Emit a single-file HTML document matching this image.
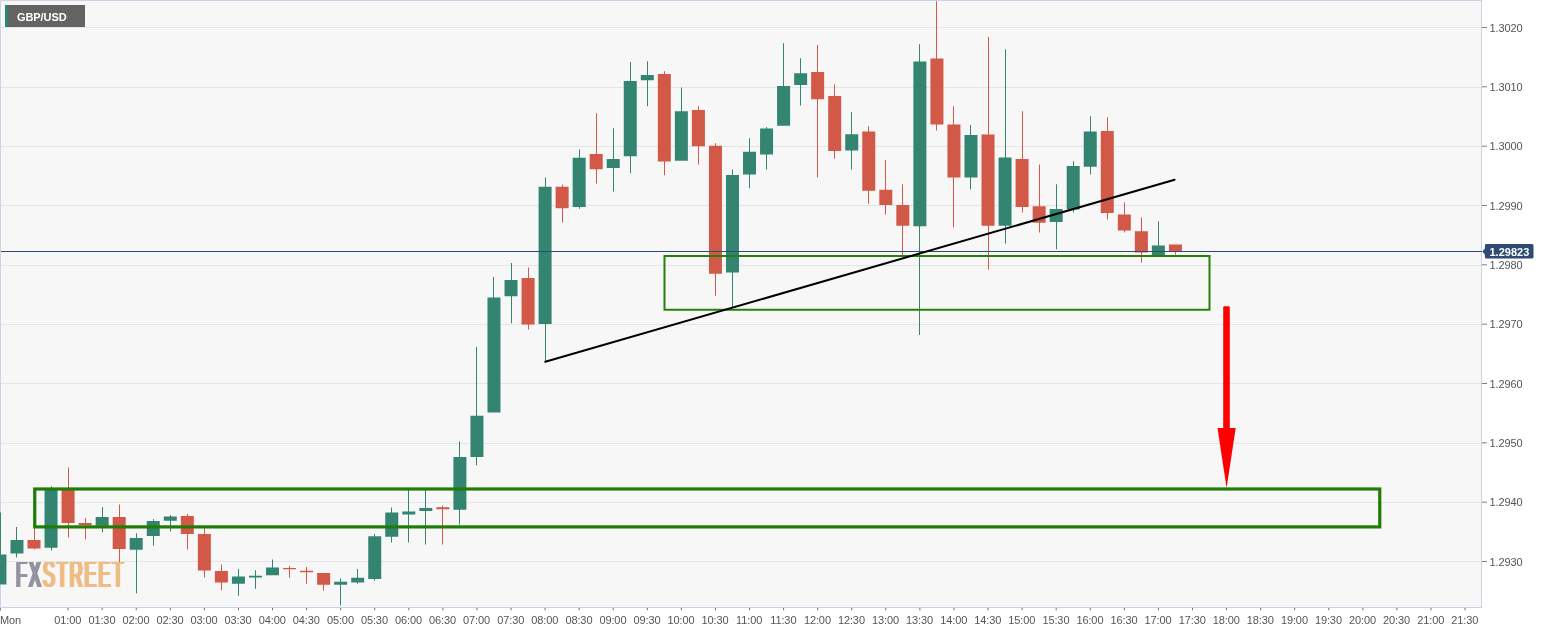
<!DOCTYPE html>
<html><head><meta charset="utf-8"><title>GBP/USD</title>
<style>
html,body{margin:0;padding:0;background:#fff;}
body{width:1552px;height:633px;position:relative;overflow:hidden;font-family:"Liberation Sans",Arial,sans-serif;}
#plot{position:absolute;left:0;top:0;width:1482px;height:608px;box-sizing:border-box;background:#f7f7f7;border:1px solid #cdd3e6;}
svg{position:absolute;left:0;top:0;}
.yl{position:absolute;left:1489.5px;letter-spacing:-0.1px;font-size:11px;line-height:12px;color:#555;white-space:nowrap;}
.xl{position:absolute;top:614px;width:40px;margin-left:-20px;letter-spacing:-0.1px;text-align:center;font-size:11px;line-height:12px;color:#555;white-space:nowrap;}
#sym{position:absolute;left:5px;top:5px;width:80px;height:22px;background:#636363;box-sizing:border-box;border-left:3px solid #2b8572;color:#fff;font-weight:700;font-size:11px;letter-spacing:-0.08px;line-height:24px;padding-left:9px;}
#wm{position:absolute;left:15.8px;top:554.55px;font-size:36.2px;line-height:40px;font-weight:400;white-space:nowrap;transform-origin:0 0;transform:scale(0.5012,1);letter-spacing:3.6px;}
#wm .fx{color:#93949f;text-shadow:2.7px 0 0 #93949f,-2.7px 0 0 #93949f,1.3px 0 0 #93949f,-1.3px 0 0 #93949f;}
#wm .st{color:#edbd85;text-shadow:2.7px 0 0 #edbd85,-2.7px 0 0 #edbd85,1.3px 0 0 #edbd85,-1.3px 0 0 #edbd85;}
#pl{position:absolute;left:1489.5px;top:245.7px;font-size:11px;line-height:13px;font-weight:700;color:#fff;}
</style></head><body>
<div id="plot"></div>
<div id="wm"><span class="fx">FX</span><span class="st">STREET</span></div>
<svg width="1552" height="633" viewBox="0 0 1552 633">
<rect x="1" y="27" width="1480" height="1" fill="#e4e4e4"/>
<rect x="1" y="87" width="1480" height="1" fill="#e4e4e4"/>
<rect x="1" y="146" width="1480" height="1" fill="#e4e4e4"/>
<rect x="1" y="205" width="1480" height="1" fill="#e4e4e4"/>
<rect x="1" y="265" width="1480" height="1" fill="#e4e4e4"/>
<rect x="1" y="324" width="1480" height="1" fill="#e4e4e4"/>
<rect x="1" y="383" width="1480" height="1" fill="#e4e4e4"/>
<rect x="1" y="443" width="1480" height="1" fill="#e4e4e4"/>
<rect x="1" y="502" width="1480" height="1" fill="#e4e4e4"/>
<rect x="1" y="561" width="1480" height="1" fill="#e4e4e4"/>
<rect x="0" y="512.50" width="1" height="71.00" fill="#338572"/>
<rect x="-6.56" y="554.50" width="13" height="30.00" fill="#338572"/>
<rect x="16" y="527.00" width="1" height="30.50" fill="#338572"/>
<rect x="10.47" y="540.00" width="13" height="13.50" fill="#338572"/>
<rect x="34" y="527.00" width="1" height="22.50" fill="#d25847"/>
<rect x="27.51" y="540.00" width="13" height="8.50" fill="#d25847"/>
<rect x="51" y="486.25" width="1" height="64.25" fill="#338572"/>
<rect x="44.54" y="489.50" width="13" height="58.25" fill="#338572"/>
<rect x="68" y="467.50" width="1" height="70.00" fill="#d25847"/>
<rect x="61.58" y="489.50" width="13" height="33.50" fill="#d25847"/>
<rect x="85" y="518.25" width="1" height="21.25" fill="#d25847"/>
<rect x="78.62" y="523.00" width="13" height="2.25" fill="#d25847"/>
<rect x="102" y="507.00" width="1" height="25.50" fill="#338572"/>
<rect x="95.65" y="517.00" width="13" height="8.75" fill="#338572"/>
<rect x="119" y="504.50" width="1" height="57.50" fill="#d25847"/>
<rect x="112.69" y="517.00" width="13" height="32.00" fill="#d25847"/>
<rect x="136" y="533.25" width="1" height="60.00" fill="#338572"/>
<rect x="129.72" y="538.00" width="13" height="11.75" fill="#338572"/>
<rect x="153" y="519.00" width="1" height="26.75" fill="#338572"/>
<rect x="146.76" y="521.00" width="13" height="15.00" fill="#338572"/>
<rect x="170" y="515.00" width="1" height="16.50" fill="#338572"/>
<rect x="163.80" y="516.50" width="13" height="4.25" fill="#338572"/>
<rect x="187" y="514.00" width="1" height="35.50" fill="#d25847"/>
<rect x="180.83" y="516.00" width="13" height="18.00" fill="#d25847"/>
<rect x="204" y="528.25" width="1" height="49.25" fill="#d25847"/>
<rect x="197.87" y="534.00" width="13" height="36.50" fill="#d25847"/>
<rect x="221" y="564.50" width="1" height="25.75" fill="#d25847"/>
<rect x="214.90" y="571.00" width="13" height="11.50" fill="#d25847"/>
<rect x="238" y="569.00" width="1" height="26.75" fill="#338572"/>
<rect x="231.94" y="576.50" width="13" height="7.25" fill="#338572"/>
<rect x="255" y="570.25" width="1" height="18.50" fill="#338572"/>
<rect x="248.98" y="575.75" width="13" height="1.75" fill="#338572"/>
<rect x="272" y="559.50" width="1" height="14.75" fill="#338572"/>
<rect x="266.01" y="567.50" width="13" height="7.75" fill="#338572"/>
<rect x="289" y="566.00" width="1" height="11.75" fill="#d25847"/>
<rect x="283.05" y="568.00" width="13" height="1.25" fill="#d25847"/>
<rect x="306" y="567.00" width="1" height="16.75" fill="#d25847"/>
<rect x="300.08" y="570.75" width="13" height="1.50" fill="#d25847"/>
<rect x="323" y="574.00" width="1" height="16.75" fill="#d25847"/>
<rect x="317.12" y="573.00" width="13" height="11.75" fill="#d25847"/>
<rect x="340" y="578.50" width="1" height="27.00" fill="#338572"/>
<rect x="334.16" y="581.75" width="13" height="3.00" fill="#338572"/>
<rect x="357" y="569.00" width="1" height="14.75" fill="#338572"/>
<rect x="351.19" y="577.75" width="13" height="4.75" fill="#338572"/>
<rect x="374" y="534.00" width="1" height="46.75" fill="#338572"/>
<rect x="368.23" y="536.25" width="13" height="42.75" fill="#338572"/>
<rect x="391" y="507.50" width="1" height="35.00" fill="#338572"/>
<rect x="385.26" y="512.50" width="13" height="24.25" fill="#338572"/>
<rect x="408" y="489.50" width="1" height="53.00" fill="#338572"/>
<rect x="402.30" y="511.50" width="13" height="3.00" fill="#338572"/>
<rect x="425" y="489.50" width="1" height="55.00" fill="#338572"/>
<rect x="419.34" y="508.00" width="13" height="3.00" fill="#338572"/>
<rect x="442" y="505.75" width="1" height="38.75" fill="#d25847"/>
<rect x="436.37" y="507.25" width="13" height="2.00" fill="#d25847"/>
<rect x="459" y="441.50" width="1" height="83.00" fill="#338572"/>
<rect x="453.41" y="457.00" width="13" height="52.75" fill="#338572"/>
<rect x="476" y="347.00" width="1" height="118.25" fill="#338572"/>
<rect x="470.44" y="415.75" width="13" height="41.25" fill="#338572"/>
<rect x="493" y="277.00" width="1" height="134.50" fill="#338572"/>
<rect x="487.48" y="297.50" width="13" height="115.00" fill="#338572"/>
<rect x="511" y="263.00" width="1" height="60.25" fill="#338572"/>
<rect x="504.52" y="280.00" width="13" height="16.25" fill="#338572"/>
<rect x="528" y="267.50" width="1" height="62.00" fill="#d25847"/>
<rect x="521.55" y="278.00" width="13" height="46.50" fill="#d25847"/>
<rect x="545" y="177.50" width="1" height="184.25" fill="#338572"/>
<rect x="538.59" y="186.75" width="13" height="137.25" fill="#338572"/>
<rect x="562" y="184.50" width="1" height="38.00" fill="#d25847"/>
<rect x="555.62" y="186.75" width="13" height="21.50" fill="#d25847"/>
<rect x="579" y="149.50" width="1" height="59.25" fill="#338572"/>
<rect x="572.66" y="157.75" width="13" height="49.25" fill="#338572"/>
<rect x="596" y="113.25" width="1" height="70.25" fill="#d25847"/>
<rect x="589.70" y="154.00" width="13" height="15.25" fill="#d25847"/>
<rect x="613" y="128.25" width="1" height="63.25" fill="#338572"/>
<rect x="606.73" y="159.00" width="13" height="9.00" fill="#338572"/>
<rect x="630" y="62.00" width="1" height="111.25" fill="#338572"/>
<rect x="623.77" y="81.00" width="13" height="75.25" fill="#338572"/>
<rect x="647" y="61.25" width="1" height="45.00" fill="#338572"/>
<rect x="640.80" y="75.00" width="13" height="5.25" fill="#338572"/>
<rect x="664" y="71.25" width="1" height="104.00" fill="#d25847"/>
<rect x="657.84" y="74.00" width="13" height="87.50" fill="#d25847"/>
<rect x="681" y="87.50" width="1" height="72.25" fill="#338572"/>
<rect x="674.88" y="111.25" width="13" height="49.50" fill="#338572"/>
<rect x="698" y="106.25" width="1" height="58.25" fill="#d25847"/>
<rect x="691.91" y="110.00" width="13" height="36.25" fill="#d25847"/>
<rect x="715" y="143.25" width="1" height="152.50" fill="#d25847"/>
<rect x="708.95" y="145.75" width="13" height="128.00" fill="#d25847"/>
<rect x="732" y="169.50" width="1" height="138.00" fill="#338572"/>
<rect x="725.98" y="175.00" width="13" height="97.50" fill="#338572"/>
<rect x="749" y="138.25" width="1" height="50.00" fill="#338572"/>
<rect x="743.02" y="151.75" width="13" height="22.75" fill="#338572"/>
<rect x="766" y="127.00" width="1" height="42.50" fill="#338572"/>
<rect x="760.06" y="128.50" width="13" height="26.00" fill="#338572"/>
<rect x="783" y="43.25" width="1" height="81.50" fill="#338572"/>
<rect x="777.09" y="86.00" width="13" height="39.75" fill="#338572"/>
<rect x="800" y="58.25" width="1" height="47.25" fill="#338572"/>
<rect x="794.13" y="73.25" width="13" height="11.75" fill="#338572"/>
<rect x="817" y="45.00" width="1" height="132.50" fill="#d25847"/>
<rect x="811.16" y="72.00" width="13" height="27.25" fill="#d25847"/>
<rect x="834" y="84.25" width="1" height="74.50" fill="#d25847"/>
<rect x="828.20" y="96.00" width="13" height="55.00" fill="#d25847"/>
<rect x="851" y="112.00" width="1" height="57.50" fill="#338572"/>
<rect x="845.24" y="134.25" width="13" height="16.25" fill="#338572"/>
<rect x="868" y="126.25" width="1" height="77.50" fill="#d25847"/>
<rect x="862.27" y="131.50" width="13" height="59.25" fill="#d25847"/>
<rect x="885" y="160.00" width="1" height="54.50" fill="#d25847"/>
<rect x="879.31" y="189.75" width="13" height="15.25" fill="#d25847"/>
<rect x="902" y="184.25" width="1" height="72.00" fill="#d25847"/>
<rect x="896.34" y="205.00" width="13" height="20.75" fill="#d25847"/>
<rect x="919" y="44.25" width="1" height="290.75" fill="#338572"/>
<rect x="913.38" y="61.50" width="13" height="164.75" fill="#338572"/>
<rect x="936" y="1.25" width="1" height="129.25" fill="#d25847"/>
<rect x="930.42" y="58.50" width="13" height="66.00" fill="#d25847"/>
<rect x="953" y="106.25" width="1" height="121.25" fill="#d25847"/>
<rect x="947.45" y="124.50" width="13" height="53.00" fill="#d25847"/>
<rect x="970" y="125.00" width="1" height="64.50" fill="#338572"/>
<rect x="964.49" y="135.00" width="13" height="42.50" fill="#338572"/>
<rect x="988" y="37.00" width="1" height="232.50" fill="#d25847"/>
<rect x="981.52" y="134.50" width="13" height="91.25" fill="#d25847"/>
<rect x="1005" y="49.25" width="1" height="194.25" fill="#338572"/>
<rect x="998.56" y="157.50" width="13" height="68.25" fill="#338572"/>
<rect x="1022" y="111.25" width="1" height="101.25" fill="#d25847"/>
<rect x="1015.60" y="159.00" width="13" height="48.00" fill="#d25847"/>
<rect x="1039" y="164.50" width="1" height="68.00" fill="#d25847"/>
<rect x="1032.63" y="206.25" width="13" height="16.50" fill="#d25847"/>
<rect x="1056" y="184.25" width="1" height="65.00" fill="#338572"/>
<rect x="1049.67" y="209.00" width="13" height="13.00" fill="#338572"/>
<rect x="1073" y="161.25" width="1" height="51.25" fill="#338572"/>
<rect x="1066.70" y="166.00" width="13" height="43.50" fill="#338572"/>
<rect x="1090" y="116.25" width="1" height="58.25" fill="#338572"/>
<rect x="1083.74" y="131.50" width="13" height="35.25" fill="#338572"/>
<rect x="1107" y="117.25" width="1" height="102.25" fill="#d25847"/>
<rect x="1100.78" y="131.00" width="13" height="82.00" fill="#d25847"/>
<rect x="1124" y="202.50" width="1" height="30.00" fill="#d25847"/>
<rect x="1117.81" y="214.50" width="13" height="16.00" fill="#d25847"/>
<rect x="1141" y="217.50" width="1" height="45.00" fill="#d25847"/>
<rect x="1134.85" y="231.25" width="13" height="21.25" fill="#d25847"/>
<rect x="1158" y="221.25" width="1" height="33.00" fill="#338572"/>
<rect x="1151.88" y="245.50" width="13" height="9.75" fill="#338572"/>
<rect x="1175" y="245.50" width="1" height="9.00" fill="#d25847"/>
<rect x="1168.92" y="244.50" width="13" height="6.75" fill="#d25847"/>
<rect x="1" y="251" width="1481" height="1" fill="#2f4a73"/>
<rect x="664.5" y="256" width="545" height="53.75" fill="none" stroke="#27800a" stroke-width="2"/>
<rect x="34.75" y="489" width="1345" height="37.9" fill="none" stroke="#1f7d05" stroke-width="3.2"/>
<line x1="545.3" y1="361.8" x2="1174.6" y2="179.7" stroke="#000" stroke-width="2" stroke-linecap="round"/>
<rect x="1223.2" y="306.3" width="6.6" height="123" rx="1.2" fill="#ff0000"/>
<polygon points="1217.5,428 1235.7,428 1226.6,488" fill="#ff0000"/>
<rect x="0" y="608" width="1" height="2.6" fill="#8a8a8a"/>
<rect x="67.58" y="608" width="1" height="2.3" fill="#707070"/>
<rect x="101.65" y="608" width="1" height="2.3" fill="#707070"/>
<rect x="135.72" y="608" width="1" height="2.3" fill="#707070"/>
<rect x="169.80" y="608" width="1" height="2.3" fill="#707070"/>
<rect x="203.87" y="608" width="1" height="2.3" fill="#707070"/>
<rect x="237.94" y="608" width="1" height="2.3" fill="#707070"/>
<rect x="272.01" y="608" width="1" height="2.3" fill="#707070"/>
<rect x="306.08" y="608" width="1" height="2.3" fill="#707070"/>
<rect x="340.16" y="608" width="1" height="2.3" fill="#707070"/>
<rect x="374.23" y="608" width="1" height="2.3" fill="#707070"/>
<rect x="408.30" y="608" width="1" height="2.3" fill="#707070"/>
<rect x="442.37" y="608" width="1" height="2.3" fill="#707070"/>
<rect x="476.44" y="608" width="1" height="2.3" fill="#707070"/>
<rect x="510.52" y="608" width="1" height="2.3" fill="#707070"/>
<rect x="544.59" y="608" width="1" height="2.3" fill="#707070"/>
<rect x="578.66" y="608" width="1" height="2.3" fill="#707070"/>
<rect x="612.73" y="608" width="1" height="2.3" fill="#707070"/>
<rect x="646.80" y="608" width="1" height="2.3" fill="#707070"/>
<rect x="680.88" y="608" width="1" height="2.3" fill="#707070"/>
<rect x="714.95" y="608" width="1" height="2.3" fill="#707070"/>
<rect x="749.02" y="608" width="1" height="2.3" fill="#707070"/>
<rect x="783.09" y="608" width="1" height="2.3" fill="#707070"/>
<rect x="817.16" y="608" width="1" height="2.3" fill="#707070"/>
<rect x="851.24" y="608" width="1" height="2.3" fill="#707070"/>
<rect x="885.31" y="608" width="1" height="2.3" fill="#707070"/>
<rect x="919.38" y="608" width="1" height="2.3" fill="#707070"/>
<rect x="953.45" y="608" width="1" height="2.3" fill="#707070"/>
<rect x="987.52" y="608" width="1" height="2.3" fill="#707070"/>
<rect x="1021.60" y="608" width="1" height="2.3" fill="#707070"/>
<rect x="1055.67" y="608" width="1" height="2.3" fill="#707070"/>
<rect x="1089.74" y="608" width="1" height="2.3" fill="#707070"/>
<rect x="1123.81" y="608" width="1" height="2.3" fill="#707070"/>
<rect x="1157.88" y="608" width="1" height="2.3" fill="#707070"/>
<rect x="1191.96" y="608" width="1" height="2.3" fill="#707070"/>
<rect x="1226.03" y="608" width="1" height="2.3" fill="#707070"/>
<rect x="1260.10" y="608" width="1" height="2.3" fill="#707070"/>
<rect x="1294.17" y="608" width="1" height="2.3" fill="#707070"/>
<rect x="1328.24" y="608" width="1" height="2.3" fill="#707070"/>
<rect x="1362.32" y="608" width="1" height="2.3" fill="#707070"/>
<rect x="1396.39" y="608" width="1" height="2.3" fill="#707070"/>
<rect x="1430.46" y="608" width="1" height="2.3" fill="#707070"/>
<rect x="1464.53" y="608" width="1" height="2.3" fill="#707070"/>
<rect x="1482" y="27.00" width="5" height="1" fill="#808080"/>
<rect x="1482" y="86.33" width="5" height="1" fill="#808080"/>
<rect x="1482" y="145.67" width="5" height="1" fill="#808080"/>
<rect x="1482" y="205.00" width="5" height="1" fill="#808080"/>
<rect x="1482" y="264.33" width="5" height="1" fill="#808080"/>
<rect x="1482" y="323.67" width="5" height="1" fill="#808080"/>
<rect x="1482" y="383.00" width="5" height="1" fill="#808080"/>
<rect x="1482" y="442.33" width="5" height="1" fill="#808080"/>
<rect x="1482" y="501.67" width="5" height="1" fill="#808080"/>
<rect x="1482" y="561.00" width="5" height="1" fill="#808080"/>
<path d="M1482.3 251.4 L1484.9 248.4 L1484.9 245.5 Q1484.9 244 1486.4 244 L1532 244 Q1533.5 244 1533.5 245.5 L1533.5 257 Q1533.5 258.6 1532 258.6 L1486.4 258.6 Q1484.9 258.6 1484.9 257 L1484.9 254.4 Z" fill="#2f4a73"/>
</svg>
<div id="sym">GBP/USD</div>
<div class="yl" style="top:22px">1.3020</div>
<div class="yl" style="top:81px">1.3010</div>
<div class="yl" style="top:140px">1.3000</div>
<div class="yl" style="top:200px">1.2990</div>
<div class="yl" style="top:259px">1.2980</div>
<div class="yl" style="top:318px">1.2970</div>
<div class="yl" style="top:378px">1.2960</div>
<div class="yl" style="top:437px">1.2950</div>
<div class="yl" style="top:496px">1.2940</div>
<div class="yl" style="top:556px">1.2930</div>
<div id="pl">1.29823</div>
<div class="xl" style="left:0px;width:auto;margin-left:0;text-align:left">Mon</div>
<div class="xl" style="left:67.8px">01:00</div>
<div class="xl" style="left:101.9px">01:30</div>
<div class="xl" style="left:135.9px">02:00</div>
<div class="xl" style="left:170.0px">02:30</div>
<div class="xl" style="left:204.1px">03:00</div>
<div class="xl" style="left:238.1px">03:30</div>
<div class="xl" style="left:272.2px">04:00</div>
<div class="xl" style="left:306.3px">04:30</div>
<div class="xl" style="left:340.4px">05:00</div>
<div class="xl" style="left:374.4px">05:30</div>
<div class="xl" style="left:408.5px">06:00</div>
<div class="xl" style="left:442.6px">06:30</div>
<div class="xl" style="left:476.6px">07:00</div>
<div class="xl" style="left:510.7px">07:30</div>
<div class="xl" style="left:544.8px">08:00</div>
<div class="xl" style="left:578.9px">08:30</div>
<div class="xl" style="left:612.9px">09:00</div>
<div class="xl" style="left:647.0px">09:30</div>
<div class="xl" style="left:681.1px">10:00</div>
<div class="xl" style="left:715.1px">10:30</div>
<div class="xl" style="left:749.2px">11:00</div>
<div class="xl" style="left:783.3px">11:30</div>
<div class="xl" style="left:817.4px">12:00</div>
<div class="xl" style="left:851.4px">12:30</div>
<div class="xl" style="left:885.5px">13:00</div>
<div class="xl" style="left:919.6px">13:30</div>
<div class="xl" style="left:953.7px">14:00</div>
<div class="xl" style="left:987.7px">14:30</div>
<div class="xl" style="left:1021.8px">15:00</div>
<div class="xl" style="left:1055.9px">15:30</div>
<div class="xl" style="left:1089.9px">16:00</div>
<div class="xl" style="left:1124.0px">16:30</div>
<div class="xl" style="left:1158.1px">17:00</div>
<div class="xl" style="left:1192.2px">17:30</div>
<div class="xl" style="left:1226.2px">18:00</div>
<div class="xl" style="left:1260.3px">18:30</div>
<div class="xl" style="left:1294.4px">19:00</div>
<div class="xl" style="left:1328.4px">19:30</div>
<div class="xl" style="left:1362.5px">20:00</div>
<div class="xl" style="left:1396.6px">20:30</div>
<div class="xl" style="left:1430.7px">21:00</div>
<div class="xl" style="left:1464.7px">21:30</div>
</body></html>
